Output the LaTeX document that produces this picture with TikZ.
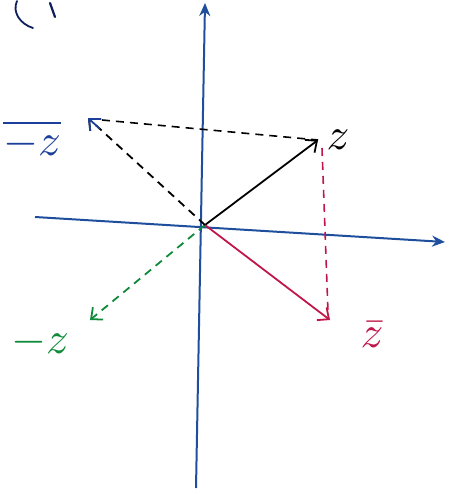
\documentclass[tikz,border=0pt]{standalone}
\usetikzlibrary{arrows.meta,calc}
\definecolor{axblue}{HTML}{1F4E9C}
\definecolor{navy}{HTML}{0D1F5C}
\definecolor{zred}{HTML}{C0164A}
\definecolor{zgreen}{HTML}{0E8A3A}
\definecolor{zblue}{HTML}{1B3F9A}
\newcommand{\biglab}[1]{\scalebox{4.5}{$#1$}}
\tikzset{
  axis/.style={axblue, line width=2pt, -{Stealth[length=13pt,width=11pt]}},
  vec/.style={line width=1.8pt, -{Straight Barb[length=9pt,width=16pt]}},
  dvec/.style={line width=1.8pt, dash pattern=on 8pt off 6pt, -{Straight Barb[length=9pt,width=16pt]}},
  guide/.style={line width=1.6pt, dash pattern=on 8pt off 6pt},
  lab/.style={inner sep=0pt}
}
\begin{document}
\begin{tikzpicture}[x=1pt,y=-1pt]
\useasboundingbox (0,0) rectangle (454,494);
% fragment top-left
\draw[navy, line width=1.8pt, line cap=round] (17,1) .. controls (12,12) and (20,24) .. (33,28);
\draw[navy, line width=2.2pt, line cap=round] (50,3) -- (55,17);
% points
\coordinate (O) at (205,225);
\coordinate (Z) at (318,140);
\coordinate (Zb) at (330,320);
\coordinate (Mz) at (90,320);
\coordinate (Mzb) at (88,118);
\coordinate (YB) at (196,488);
\coordinate (YT) at (205,3);
\coordinate (XL) at (35,217);
\coordinate (XR) at (445,242);
\coordinate (G1) at (102,120);
\coordinate (G2) at (322,148);
\coordinate (G3) at (328,312);
% axes
\draw[axis] (YB) -- (YT);
\draw[axis] (XL) -- (XR);
% guides
\draw[guide, black] (G1) -- (Z);
\draw[guide, zred] (G2) -- (G3);
% vectors
\draw[vec, black] (O) -- (Z);
\draw[vec, zred] (O) -- (Zb);
\draw[dvec, zgreen] (O) -- (Mz);
\draw[dvec, black] (O) -- (Mzb);
\draw[zblue, line width=1.8pt, -{Straight Barb[length=9pt,width=16pt]}] ($(O)!0.9!(Mzb)$) -- (Mzb);
% labels
\node[lab, black] (lz) at (338,140) {\biglab{z}};
\node[lab, zred] (lzb) at (372,335) {\biglab{\bar{z}}};
\node[lab, zgreen] (lmz) at (40,342) {\biglab{-z}};
\node[lab, zblue] (lmzb) at (32,140) {\biglab{\overline{-z}}};
\end{tikzpicture}
\end{document}
